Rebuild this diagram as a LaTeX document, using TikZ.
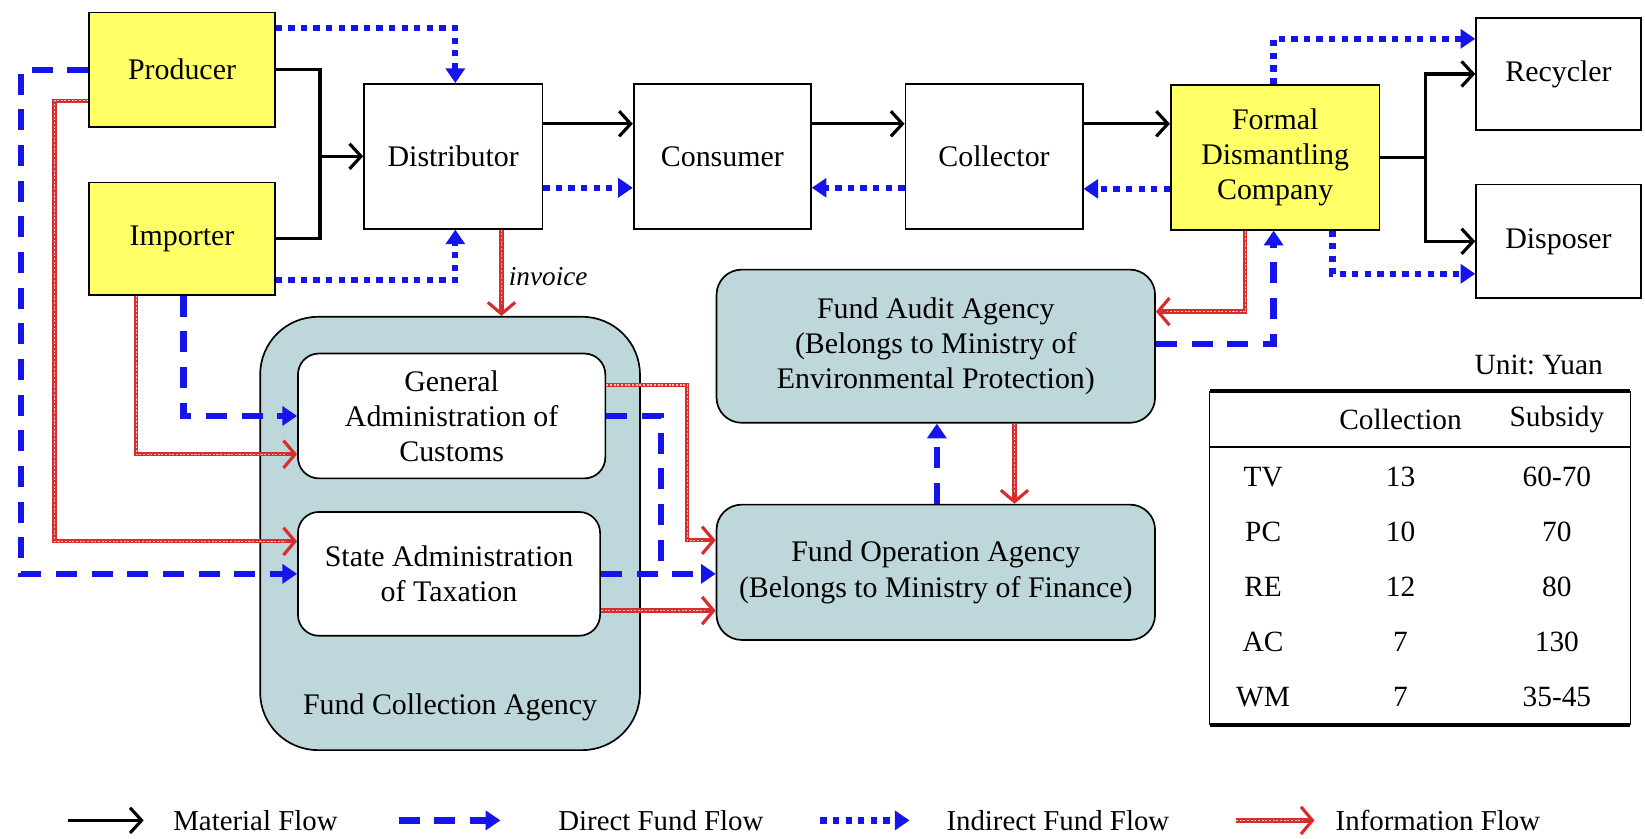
\documentclass[tikz,border=0pt]{standalone}
\usepackage{fontspec}
\setmainfont{Liberation Serif}
\usetikzlibrary{arrows.meta}
\definecolor{boxyellow}{RGB}{255,255,102}
\definecolor{fundblue}{RGB}{20,20,235}
\definecolor{infored}{RGB}{215,45,45}
\definecolor{agencyteal}{RGB}{189,215,219}

\tikzset{
  base/.style={draw=black, line width=1.6pt, inner sep=0pt, align=center,
    font=\fontsize{28.5}{33.5}\selectfont},
  actor/.style={base, fill=boxyellow},
  plain/.style={base, fill=white},
  agency/.style={base, fill=agencyteal, rounded corners=24pt},
  office/.style={base, fill=white, rounded corners=20pt},
  matl/.style={draw=black, line width=3pt},
  mat/.style={matl, -{Straight Barb[length=11pt,width=24pt]}},
  dirl/.style={draw=fundblue, line width=6pt, dash pattern=on 20pt off 14pt},
  dir/.style={dirl, -{Triangle[length=14pt,width=18pt]}},
  ind/.style={draw=fundblue, line width=6pt, dash pattern=on 6pt off 6pt,
    -{Triangle[length=14pt,width=18pt]}},
  info/.style={draw=infored, line width=4pt,
    -{Straight Barb[length=11pt,width=26pt,line width=3pt]},
    postaction={draw=infored!30!white, line width=1.2pt,
      dash pattern=on 2pt off 1.5pt, arrows=-, shorten >=11pt}},
  cell/.style={font=\fontsize{28}{33}\selectfont, inner sep=0pt},
  legtext/.style={font=\fontsize{27.5}{32}\selectfont, anchor=west, inner sep=0pt},
}

\begin{document}
\begin{tikzpicture}[x=1pt, y=-1pt]
\useasboundingbox (0,0) rectangle (1568,799);

% ---- material chain ----
\node[actor, minimum width=177pt, minimum height=109pt] (prod) at (173.5,66.5) {Producer};
\node[actor, minimum width=177pt, minimum height=107pt] (imp) at (173.5,227.5) {Importer};
\node[plain, minimum width=170pt, minimum height=138pt] (dist) at (432,149) {Distributor};
\node[plain, minimum width=169pt, minimum height=138pt] (cons) at (688.5,149) {Consumer};
\node[plain, minimum width=169pt, minimum height=138pt] (coll) at (947.5,149) {Collector};
\node[actor, minimum width=199pt, minimum height=138pt] (fdc) at (1215.5,150) {Formal\\Dismantling\\Company};
\node[plain, minimum width=157pt, minimum height=107pt] (rec) at (1485.5,70.5) {Recycler};
\node[plain, minimum width=157pt, minimum height=108pt] (disp) at (1485.5,230) {Disposer};

% ---- agencies ----
\node[agency, rounded corners=55pt, minimum width=362pt, minimum height=413pt] (fca) at (429,508.5) {};
\node[base, draw=none, fill=none] (fcalabel) at (429,674) {Fund Collection Agency};
\node[office, minimum width=293pt, minimum height=119pt] (cust) at (430.5,396.5) {General\\Administration of\\Customs};
\node[office, minimum width=288pt, minimum height=118pt] (tax) at (428,547) {State Administration\\of Taxation};
\node[agency, minimum width=418pt, minimum height=146pt] (audit) at (892,330) {Fund Audit Agency\\(Belongs to Ministry of\\Environmental Protection)};
\node[agency, minimum width=418pt, minimum height=129pt] (oper) at (892,545.5) {Fund Operation Agency\\(Belongs to Ministry of Finance)};

% ---- material flow ----
\coordinate (jm) at (305,149);
\draw[matl] (prod.east) -| (jm) |- (imp.east);
\draw[mat] (jm) -- (dist.west);
\draw[mat] ([yshift=31pt]dist.east) -- ([yshift=31pt]dist.east -| cons.west);
\draw[mat] ([yshift=31pt]cons.east) -- ([yshift=31pt]cons.east -| coll.west);
\draw[mat] ([yshift=31pt]coll.east) -- ([yshift=31pt]coll.east -| fdc.west);
\coordinate (jf) at (1359,150);
\draw[matl] (fdc.east) -- (jf);
\draw[mat] (jf) |- (rec.west);
\draw[mat] (jf) |- (disp.west);

% ---- indirect fund flow ----
\draw[ind] ([yshift=39.5pt]prod.east) -| ([xshift=2pt]dist.north);
\draw[ind] ([yshift=-39.5pt]imp.east) -| ([xshift=2pt]dist.south);
\draw[ind] ([yshift=-30pt]dist.east) -- ([yshift=-30pt]dist.east -| cons.west);
\draw[ind] ([yshift=-30pt]coll.west) -- ([yshift=-30pt]coll.west -| cons.east);
\draw[ind] ([yshift=-30pt]fdc.west) -- ([yshift=-30pt]fdc.west -| coll.east);
\draw[ind] ([xshift=-1.5pt]fdc.north) |- ([yshift=33.5pt]rec.west);
\draw[ind] ([xshift=54.5pt]fdc.south) |- ([yshift=-31pt]disp.west);

% ---- direct fund flow ----
\coordinate (pl) at (20,547);
\draw[dir] (prod.west) -| (pl) -- (tax.west);
\draw[dir] ([xshift=1.5pt]imp.south) |- (cust.west);
\coordinate (cb) at (630,547);
\draw[dirl] (cust.east) -| (cb);
\draw[dir] (tax.east) -- (tax.east -| oper.west);
\draw[dir] ([xshift=1pt]oper.north) -- ([xshift=1pt]audit.south);
\draw[dir] ([yshift=2pt]audit.east) -| ([xshift=-1.5pt]fdc.south);

% ---- information flow ----
\coordinate (pr) at (52,516);
\draw[info] ([yshift=-29.5pt]prod.west) -| (pr) -- ([yshift=31pt]tax.west);
\draw[info] ([xshift=-43.5pt]imp.south) |- ([yshift=-36.5pt]cust.west);
\draw[info] ([xshift=46pt]dist.south) -- ([xshift=46pt]dist.south |- fca.north)
  node[pos=0.55, right=5pt, font=\fontsize{26}{30}\selectfont\itshape, inner sep=0pt] (inv) {invoice};
\coordinate (cr) at (655,515);
\draw[info] ([yshift=29.5pt]cust.east) -| (cr) -- ([yshift=30.5pt]oper.west);
\draw[info] ([yshift=-35pt]tax.east) -- ([yshift=-35pt]tax.east -| oper.west);
\draw[info] ([xshift=75pt]audit.south) -- ([xshift=75pt]audit.south |- oper.north);
\draw[info] ([xshift=-28.5pt]fdc.south) |- ([yshift=33pt]audit.east);

% ---- table of rates ----
\node[cell, anchor=east] (unit) at (1528,348) {Unit:\ Yuan};
\draw[line width=3.5pt] (1153,373) -- (1554,373);
\draw[line width=3.5pt] (1153,691) -- (1554,691);
\draw[line width=1.3pt] (1153,373) -- (1153,691);
\draw[line width=1.3pt] (1554,373) -- (1554,691);
\draw[line width=1.6pt] (1153,426) -- (1554,426);
\node[cell] (hcol) at (1335,400) {Collection};
\node[cell] (hsub) at (1484,400) {Subsidy};
\foreach \n/\c/\s/\y in {TV/13/60-70/455, PC/10/70/507, RE/12/80/559, AC/7/130/612, WM/7/35-45/664}{
  \node[cell] (r\n) at (1204,\y) {\n};
  \node[cell] (c\n) at (1335,\y) {\c};
  \node[cell] (s\n) at (1484,\y) {\s};
}

% ---- legend ----
\coordinate (lm1) at (65,782);   \coordinate (lm2) at (137,782);
\coordinate (ld1) at (380,782);  \coordinate (ld2) at (477,782);
\coordinate (li1) at (782,782);  \coordinate (li2) at (867,782);
\coordinate (lf1) at (1178,782); \coordinate (lf2) at (1253,782);
\draw[mat] (lm1) -- (lm2);
\draw[dir] (ld1) -- (ld2);
\draw[ind] (li1) -- (li2);
\draw[info] (lf1) -- (lf2);
\node[legtext] (lgm) at (165,782) {Material Flow};
\node[legtext] (lgd) at (532,782) {Direct Fund Flow};
\node[legtext] (lgi) at (902,782) {Indirect Fund Flow};
\node[legtext] (lgf) at (1273,782) {Information Flow};
\end{tikzpicture}
\end{document}
